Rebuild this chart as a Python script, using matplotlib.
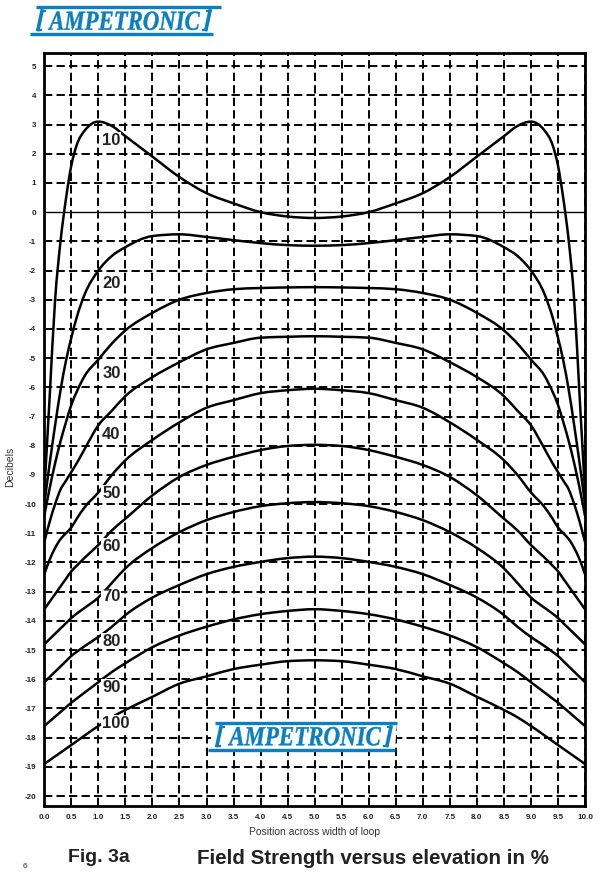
import matplotlib
matplotlib.use("Agg")
import numpy as np
import matplotlib.pyplot as plt
from matplotlib.patches import Polygon, PathPatch
from matplotlib.path import Path
from matplotlib.textpath import TextPath
from matplotlib.font_manager import FontProperties
from matplotlib.transforms import Affine2D

plt.rcParams['font.family'] = ['Liberation Sans', 'DejaVu Sans']
plt.rcParams['lines.scale_dashes'] = False

# ---------------- data ----------------
positions = [0.0, 0.1, 0.2, 0.3, 0.4, 0.5, 0.6, 0.75, 1.0, 1.25, 1.5, 2.0, 2.5, 3.0, 3.5, 4.0, 4.5, 5.0,
             5.5, 6.0, 6.5, 7.0, 7.5, 8.0, 8.5, 8.75, 9.0, 9.25, 9.4, 9.5, 9.6, 9.7, 9.8, 9.9, 10.0]

elev_10 = [-9.6, -6.3, -3.0, -1.0, 0.45, 1.6, 2.3, 2.8, 3.1, 2.95, 2.6, 1.9, 1.2, 0.65, 0.3, 0.0, -0.15, -0.2,
           -0.15, 0.0, 0.3, 0.65, 1.2, 1.9, 2.6, 2.95, 3.1, 2.8, 2.3, 1.6, 0.45, -1.0, -3.0, -6.3, -9.6]
elev_20 = [-10.0, -8.6, -7.3, -6.1, -5.1, -4.3, -3.6, -2.8, -2.0, -1.5, -1.2, -0.82, -0.76, -0.85, -0.96, -1.06, -1.13, -1.15,
           -1.13, -1.06, -0.96, -0.85, -0.76, -0.82, -1.2, -1.5, -2.0, -2.8, -3.6, -4.3, -5.1, -6.1, -7.3, -8.6, -10.0]
elev_30 = [-10.4, -9.45, -8.6, -7.85, -7.2, -6.6, -6.15, -5.6, -5.05, -4.5, -4.05, -3.45, -3.0, -2.77, -2.64, -2.6, -2.58, -2.57,
           -2.58, -2.6, -2.64, -2.77, -3.0, -3.45, -4.05, -4.5, -5.05, -5.6, -6.15, -6.6, -7.2, -7.85, -8.6, -9.45, -10.4]
elev_40 = [-11.3, -10.6, -10.0, -9.5, -9.2, -8.9, -8.6, -8.1, -7.3, -6.8, -6.3, -5.65, -5.14, -4.7, -4.48, -4.3, -4.27, -4.25,
           -4.27, -4.3, -4.48, -4.7, -5.14, -5.65, -6.3, -6.8, -7.3, -8.1, -8.6, -8.9, -9.2, -9.5, -10.0, -10.6, -11.3]
elev_50 = [-12.4, -11.9, -11.5, -11.2, -11.0, -10.8, -10.5, -10.1, -9.6, -9.0, -8.5, -7.8, -7.2, -6.7, -6.44, -6.2, -6.1, -6.05,
           -6.1, -6.2, -6.44, -6.7, -7.2, -7.8, -8.5, -9.0, -9.6, -10.1, -10.5, -10.8, -11.0, -11.2, -11.5, -11.9, -12.4]
elev_60 = [-13.6, -13.34, -13.08, -12.82, -12.56, -12.3, -12.11, -11.83, -11.4, -10.9, -10.5, -9.7, -9.07, -8.66, -8.38, -8.15, -8.01, -7.97,
           -8.01, -8.15, -8.38, -8.66, -9.07, -9.7, -10.5, -10.9, -11.4, -11.83, -12.11, -12.3, -12.56, -12.82, -13.08, -13.34, -13.6]
elev_70 = [-14.8, -14.62, -14.44, -14.26, -14.08, -13.9, -13.75, -13.55, -13.2, -12.7, -12.2, -11.5, -10.96, -10.55, -10.27, -10.07, -9.97, -9.93,
           -9.97, -10.07, -10.27, -10.55, -10.96, -11.5, -12.2, -12.7, -13.2, -13.55, -13.75, -13.9, -14.08, -14.26, -14.44, -14.62, -14.8]
elev_80 = [-16.1, -15.92, -15.74, -15.56, -15.38, -15.2, -15.06, -14.86, -14.55, -14.2, -13.8, -13.2, -12.77, -12.4, -12.15, -11.98, -11.85, -11.8,
           -11.85, -11.98, -12.15, -12.4, -12.77, -13.2, -13.8, -14.2, -14.55, -14.86, -15.06, -15.2, -15.38, -15.56, -15.74, -15.92, -16.1]
elev_90 = [-17.6, -17.44, -17.28, -17.12, -16.96, -16.8, -16.66, -16.45, -16.1, -15.75, -15.45, -14.9, -14.5, -14.2, -13.95, -13.77, -13.66, -13.6,
           -13.66, -13.77, -13.95, -14.2, -14.5, -14.9, -15.45, -15.75, -16.1, -16.45, -16.66, -16.8, -16.96, -17.12, -17.28, -17.44, -17.6]
elev_100 = [-18.9, -18.77, -18.64, -18.51, -18.38, -18.25, -18.12, -17.92, -17.6, -17.3, -17.05, -16.6, -16.15, -15.9, -15.65, -15.5, -15.38, -15.35,
            -15.38, -15.5, -15.65, -15.9, -16.15, -16.6, -17.05, -17.3, -17.6, -17.92, -18.12, -18.25, -18.38, -18.51, -18.64, -18.77, -18.9]

series = [elev_10, elev_20, elev_30, elev_40, elev_50, elev_60, elev_70, elev_80, elev_90, elev_100]
series_labels = ["10", "20", "30", "40", "50", "60", "70", "80", "90", "100"]
label_y = [2.47, -2.43, -5.51, -7.63, -9.62, -11.44, -13.18, -14.69, -16.27, -17.5]

x_ticks = [0.0, 0.5, 1.0, 1.5, 2.0, 2.5, 3.0, 3.5, 4.0, 4.5, 5.0, 5.5, 6.0, 6.5, 7.0, 7.5, 8.0, 8.5, 9.0, 9.5, 10.0]
y_ticks = list(range(5, -21, -1))


def smooth_path(xs, ys):
    """Monotone cubic (d3 curveMonotoneX style) Bezier path through the given points."""
    x = np.asarray(xs, float)
    y = np.asarray(ys, float)
    n = len(x)
    h = np.diff(x)
    s = np.diff(y) / h
    t = np.zeros(n)
    for i in range(1, n - 1):
        h0, h1, s0, s1 = h[i - 1], h[i], s[i - 1], s[i]
        p = (s0 * h1 + s1 * h0) / (h0 + h1)
        t[i] = (np.sign(s0) + np.sign(s1)) * min(abs(s0), abs(s1), 0.5 * abs(p))
    t[0] = (3 * s[0] - t[1]) / 2
    t[-1] = (3 * s[-1] - t[-2]) / 2
    verts = [(x[0], y[0])]
    codes = [Path.MOVETO]
    for i in range(n - 1):
        dx = h[i] / 3
        verts += [(x[i] + dx, y[i] + t[i] * dx), (x[i + 1] - dx, y[i + 1] - t[i + 1] * dx), (x[i + 1], y[i + 1])]
        codes += [Path.CURVE4] * 3
    return Path(verts, codes)


# ---------------- figure ----------------
W, H = 600, 875
fig = plt.figure(figsize=(W / 100, H / 100), dpi=100)
ax = fig.add_axes([44.3 / W, 1 - 806 / H, (585 - 44.3) / W, (806 - 53) / H])
ax.set_xlim(0, 10)
ax.set_ylim(-20.34, 5.45)

for xv in x_ticks:
    ax.axvline(xv, color='black', lw=1.4, dashes=(6, 3), zorder=1)
for yv in y_ticks:
    if yv == 0:
        ax.axhline(yv, color='black', lw=1.0, zorder=1)
    else:
        ax.axhline(yv, color='black', lw=1.4, dashes=(6, 3), zorder=1)

for vals in series:
    ax.add_patch(PathPatch(smooth_path(positions, vals), facecolor='none', edgecolor='black',
                           lw=1.8, zorder=3, capstyle='round', joinstyle='round'))

for lab, ly in zip(series_labels, label_y):
    ax.text(1.07, ly, lab, fontsize=12, fontweight='bold', color='#222222', ha='left', va='center',
            zorder=4, bbox=dict(facecolor='white', edgecolor='none', pad=0.5))

ax.set_xticks(x_ticks)
ax.set_xticklabels([f"{v:.1f}" for v in x_ticks])
ax.set_yticks(y_ticks)
ax.set_yticklabels([str(v) for v in y_ticks])
ax.tick_params(length=0, labelsize=5.8, pad=6)
for lbl in ax.get_xticklabels() + ax.get_yticklabels():
    lbl.set_fontweight('bold')
    lbl.set_color('#222222')
for sp in ax.spines.values():
    sp.set_linewidth(2.0)
    sp.set_zorder(5)

ax.set_xlabel("Position across width of loop", fontsize=7.5, color='#333333', labelpad=4)

# ---------------- overlay (pixel coordinates) ----------------
ov = fig.add_axes([0, 0, 1, 1], zorder=10)
ov.set_xlim(0, W)
ov.set_ylim(H, 0)
ov.axis('off')
ov.patch.set_alpha(0)

BLUE = '#0a7fc3'
logo_font = FontProperties(family=['Liberation Serif', 'DejaVu Serif'], weight='bold', style='italic')


def logo(bar_top, bar_bot, top_x, bot_x, br_l, br_r, text_box):
    (tx0, tx1), (ty0, ty1) = text_box
    ov.add_patch(Polygon([(top_x[0], bar_top), (top_x[1], bar_top), (bot_x[1], bar_bot), (bot_x[0], bar_bot)],
                         closed=True, facecolor='white', edgecolor='none', zorder=1))
    ov.plot(top_x, [bar_top, bar_top], color=BLUE, lw=2.4, solid_capstyle='butt', zorder=2)
    ov.plot(bot_x, [bar_bot, bar_bot], color=BLUE, lw=2.4, solid_capstyle='butt', zorder=2)
    for (xa, xb), foot in ((br_l, 1), (br_r, -1)):
        ov.plot([xa, xb], [bar_top + 4, bar_bot - 4], color=BLUE, lw=2.6, zorder=2)
        ov.plot([xa, xa + 3 * foot], [bar_top + 4, bar_top + 4], color=BLUE, lw=1.6, zorder=2)
        ov.plot([xb, xb + 3 * foot], [bar_bot - 4, bar_bot - 4], color=BLUE, lw=1.6, zorder=2)
    tp = TextPath((0, 0), "AMPETRONIC", size=1, prop=logo_font)
    bb = tp.get_extents()
    tr = (Affine2D().translate(-bb.x0, -bb.y0)
          .scale((tx1 - tx0) / bb.width, -(ty1 - ty0) / bb.height)
          .translate(tx0, ty1))
    ov.add_patch(PathPatch(tr.transform_path(tp), facecolor=BLUE, edgecolor=BLUE, lw=0.3, zorder=3))


logo(7, 33.5, (36, 221), (30, 213), (42, 38), (210, 206), ((48, 200), (11.5, 30)))
logo(723, 749.5, (215, 397), (208, 395), (221, 217), (391, 387), ((228, 381), (727, 745.5)))

ov.text(10, 467, "Decibels", fontsize=7.5, color='#333333', rotation=90, ha='center', va='center')
ov.text(68, 858, "Fig. 3a", fontsize=14, fontweight='bold', color='#222222', ha='left', va='center')
ov.text(197, 858, "Field Strength versus elevation in %", fontsize=14.8, fontweight='bold',
        color='#222222', ha='left', va='center')
ov.text(25, 867, "6", fontsize=6, color='#333333', ha='center', va='center')

fig.savefig("out.png", dpi=100)
